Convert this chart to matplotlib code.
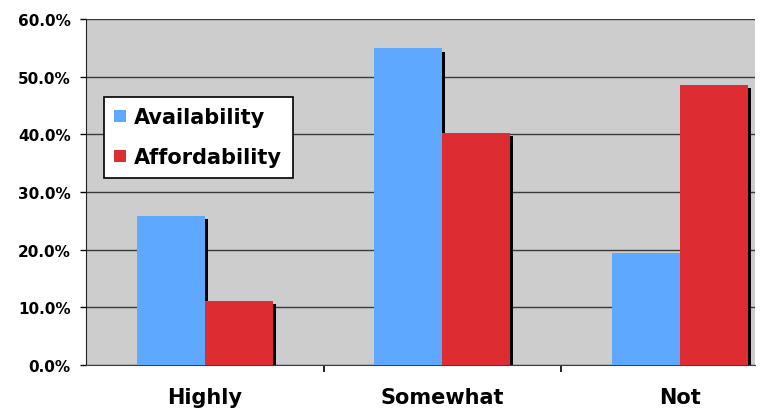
import matplotlib.pyplot as plt
import numpy as np
from matplotlib.ticker import FuncFormatter, FixedLocator

categories = ["Highly", "Somewhat", "Not"]
availability = [25.9, 54.9, 19.4]
affordability = [11.1, 40.3, 48.6]
series_names = ["Availability", "Affordability"]
colors = ["#5FA8FF", "#DE2C33"]

fig = plt.figure(figsize=(7.62, 4.10), dpi=100)
ax = fig.add_axes([86 / 762, 44 / 410, 669 / 762, 346 / 410])
ax.set_facecolor("#CDCDCD")

x = np.arange(len(categories))
w = 0.286
shift = 3 / 237.5

for i, vals in enumerate([availability, affordability]):
    pos = x - w / 2 + i * w
    # drop shadow on the right side of each bar
    ax.bar(pos + shift, [v - 0.6 for v in vals], w, color="black", zorder=2)
    ax.bar(pos, vals, w, color=colors[i], label=series_names[i], zorder=3)

ax.set_xlim(-0.5, -0.5 + 669 / 237.5)
ax.set_ylim(0, 60)
ax.set_yticks(range(0, 61, 10))
ax.yaxis.set_major_formatter(FuncFormatter(lambda v, p: f"{v:.1f}%"))
ax.grid(axis="y", color="#3A3A3A", linewidth=1, zorder=1)
ax.set_axisbelow(True)

ax.set_xticks(x)
ax.set_xticklabels(categories, fontsize=15, fontweight="heavy")
ax.xaxis.set_minor_locator(FixedLocator([0.5, 1.5]))
ax.tick_params(axis="x", which="major", length=0, pad=16)
ax.tick_params(axis="x", which="minor", length=5, width=1.2, color="black", direction="out")
ax.tick_params(axis="y", length=4.5, width=1, direction="out", pad=6.5, labelsize=11)
for lab in ax.get_yticklabels():
    lab.set_fontweight("bold")

ax.spines["top"].set_visible(False)
ax.spines["right"].set_visible(False)
ax.spines["left"].set_color("#202020")
ax.spines["bottom"].set_color("#404040")

leg = ax.legend(loc="upper left", bbox_to_anchor=(18 / 669, 268 / 346), borderaxespad=0,
                frameon=True, fancybox=False, edgecolor="black", framealpha=1,
                prop={"weight": "bold", "size": 15}, handlelength=0.55, handleheight=0.55,
                handletextpad=0.4, labelspacing=0.95, borderpad=0.5)
leg.get_frame().set_linewidth(1.2)

plt.savefig("out.png", dpi=100)
